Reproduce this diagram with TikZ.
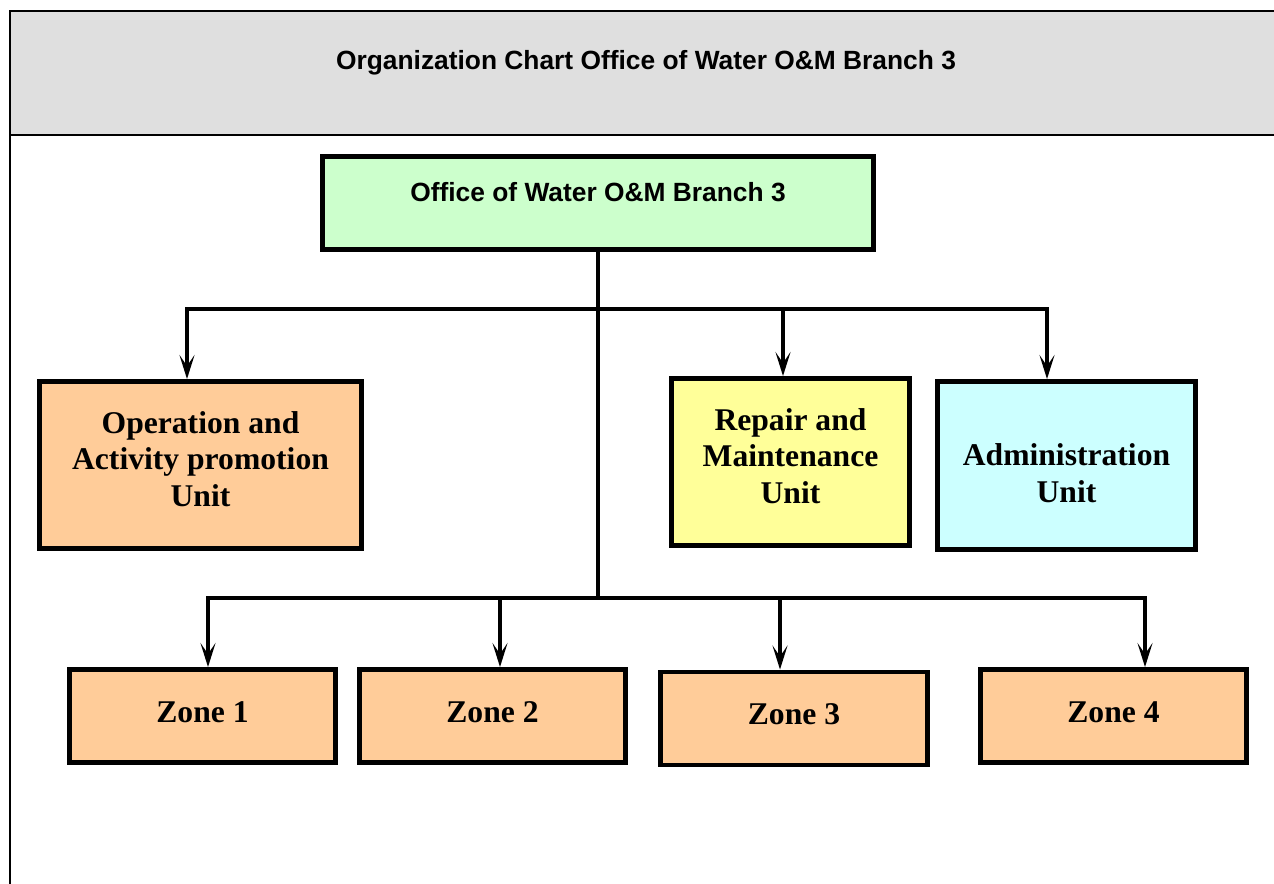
\documentclass[tikz,border=0pt]{standalone}
\usepackage{fontspec}
\setmainfont{Liberation Serif}
\setsansfont{Liberation Sans}
\usepackage{tikz}
\usetikzlibrary{arrows.meta, calc}
\definecolor{head-grey}{HTML}{DFDFDF}
\definecolor{box-green}{HTML}{CCFFCC}
\definecolor{box-orange}{HTML}{FFCC99}
\definecolor{box-yellow}{HTML}{FFFF99}
\definecolor{box-cyan}{HTML}{CCFFFF}

\begin{document}
\begin{tikzpicture}[x=0.02cm, y=-0.02cm,
		unitbox/.style={draw, line width=2.8pt, align=center, inner sep=0pt, font=\bfseries\fontsize{18}{21}\selectfont},
		zonebox/.style={unitbox, fill=box-orange, minimum width=5.32cm, minimum height=1.86cm, text depth=0.16cm},
		headfont/.style={font=\sffamily\bfseries\fontsize{15}{18}\selectfont},
		conn/.style={line width=2pt},
		arr/.style={conn, -{Stealth[length=0.48cm, width=0.3cm, inset=0.22cm]}}]
	\useasboundingbox (0,0) rectangle (1274,884);
	
	% header band and frame
	\fill[head-grey] (10,11) rectangle (1274,135);
	\draw[line width=1.2pt] (10,884) -- (10,11) -- (1274,11);
	\draw[line width=1.2pt] (10,135) -- (1274,135);
	\node[headfont] at (646,63) (title) {Organization Chart Office of Water O\&M Branch 3};
	
	\node[unitbox, headfont, fill=box-green, minimum width=11.02cm, minimum height=1.86cm, text depth=0.44cm] at (598,203) (office) {Office of Water O\&M Branch 3};
	
	\node[unitbox, fill=box-orange, minimum width=6.44cm, minimum height=3.34cm, text depth=0.24cm] at (200.5,465) (opunit) {Operation and\\Activity promotion\\Unit};
	\node[unitbox, fill=box-yellow, minimum width=4.76cm, minimum height=3.34cm, text depth=0.24cm] at (790.5,462) (repunit) {Repair and\\Maintenance\\Unit};
	\node[unitbox, fill=box-cyan, minimum width=5.16cm, minimum height=3.36cm, text height=1.49cm] at (1066.5,465.5) (adminunit) {Administration\\Unit};
	
	\node[zonebox] at (202.5,716) (zone1) {Zone 1};
	\node[zonebox] at (492.5,716) (zone2) {Zone 2};
	\node[zonebox, minimum width=5.34cm] at (794,718.5) (zone3) {Zone 3};
	\node[zonebox] at (1113.5,716) (zone4) {Zone 4};
	
	% buses
	\coordinate (ubus) at (598,309);
	\coordinate (zbus) at (598,598);
	\draw[conn] (office.south) -- (zbus);
	
	\foreach \n/\dx in {opunit/-13.5, repunit/-7.5, adminunit/-19.5} {
		\path ($(\n.north)+(\dx,0)$) coordinate (\n-tip);
		\draw[arr] (ubus) -| (\n-tip);
	}
	\foreach \n/\dx in {zone1/5.5, zone2/7.5, zone3/-14, zone4/31.5} {
		\path ($(\n.north)+(\dx,0)$) coordinate (\n-tip);
		\draw[arr] (zbus) -| (\n-tip);
	}
\end{tikzpicture}
\end{document}
